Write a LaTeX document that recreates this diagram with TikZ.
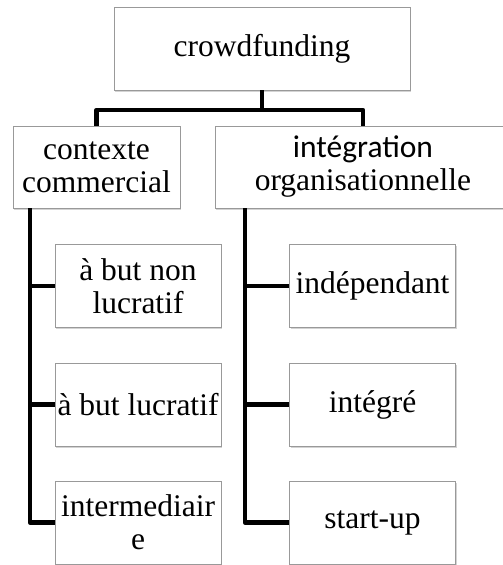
\documentclass[tikz,border=0pt]{standalone}
\usepackage{fontspec}
\setmainfont{Liberation Serif}
\newfontfamily\sansfont{Carlito}
\usetikzlibrary{shadows}
\tikzstyle{box}=[rectangle,draw=black!40,fill=white,line width=0.8pt,inner sep=0pt,align=center,
  drop shadow={opacity=0.35,shadow xshift=1.2pt,shadow yshift=-1.8pt},
  font=\fontsize{31.5}{33}\selectfont]
\tikzstyle{rootbox}=[box,minimum width=296pt,minimum height=83pt]
\tikzstyle{catbox}=[box,minimum height=82pt]
\tikzstyle{leafbox}=[box,minimum width=166pt,minimum height=83pt]
\tikzstyle{link} = [draw,line width=4.5pt,line join=round]

\begin{document}
\begin{tikzpicture}[x=1pt,y=-1pt]
\useasboundingbox (0,0) rectangle (503,565);

   \def\ybar{110}

% top
   \node[rootbox] (root) at (262,48.5) {crowdfunding};

% categories
   \node[catbox,minimum width=167pt] (comm) at (96.5,167) {contexte\\commercial};
   \node[catbox,minimum width=296pt] (orga) at (363,167) {{\sansfont intégration}\\organisationnelle};

   \path[link] (root.south) -- (262,\ybar) -| (comm.north);
   \path[link] (root.south) -- (262,\ybar) -| (orga.north);

% leaves
    \foreach \pos/ \name/ \txt in {{(138,286)/nonluc/{à but non\\lucratif}}, {(138,404.5)/luc/{à but lucratif}}, {(138,522.5)/inter/{intermediair\\e}},
      {(372.5,286)/indep/{indépendant}}, {(372.5,404.5)/integ/{intégré}}, {(372.5,522.5)/start/{start-up}}}
    	\node[leafbox] (\name) at \pos {\txt};

    \foreach \src/ \dest/ \dx in {comm/nonluc/-66.5, comm/luc/-66.5, comm/inter/-66.5, orga/indep/-118, orga/integ/-118, orga/start/-118}
        \path[link] ([xshift=\dx pt]\src.south) |- (\dest.west);

\end{tikzpicture}
\end{document}
